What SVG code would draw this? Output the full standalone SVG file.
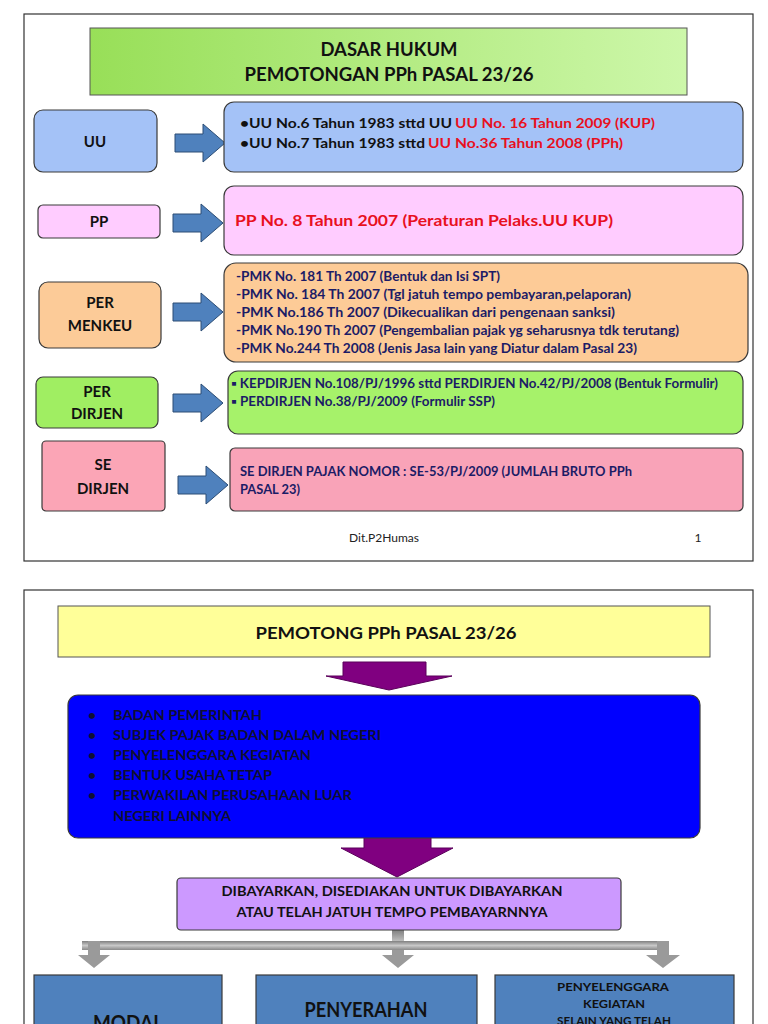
<svg xmlns="http://www.w3.org/2000/svg" width="768" height="1024" viewBox="0 0 768 1024">
<style>
text{font-family:Lato,"Open Sans","Liberation Sans",sans-serif;font-weight:bold}
.c{text-anchor:middle}
.lbl{font-size:15px;fill:#111}
.nv{fill:#1c1c66;font-size:12.5px}
.bk{fill:#111}
.rd{fill:#e8101e}
.box{stroke:#3a3a3a;stroke-width:1.2}
.frame{fill:#fff;stroke:#333;stroke-width:1.2}
.bar{fill:#9a9a9a}
</style>
<defs>
<linearGradient id="gT" x1="0" y1="0" x2="1" y2="0">
<stop offset="0" stop-color="#98df58"/><stop offset="1" stop-color="#cdf7aa"/>
</linearGradient>
<linearGradient id="gBar" x1="0" y1="0" x2="0" y2="1">
<stop offset="0" stop-color="#808080"/><stop offset="0.5" stop-color="#c8c8c8"/><stop offset="1" stop-color="#8a8a8a"/>
</linearGradient>
<path id="arr" d="M0,10 H28 V0 L50,19 L28,38 V28 H0 Z" fill="#4f81bd" stroke="#2c4d75" stroke-width="1"/>
</defs>
<rect width="768" height="1024" fill="#fff"/>
<rect class="frame" x="24" y="14" width="729" height="547"/>
<rect class="frame" x="24" y="590" width="729" height="450"/>

<g id="title1">
<rect x="90" y="28" width="597" height="67" fill="url(#gT)" stroke="#555" stroke-width="1"/>
<text class="c bk" x="389" y="56" font-size="18" textLength="137" lengthAdjust="spacingAndGlyphs">DASAR HUKUM</text>
<text class="c bk" x="389" y="81" font-size="18" textLength="289" lengthAdjust="spacingAndGlyphs">PEMOTONGAN PPh PASAL 23/26</text>
</g>

<g id="connectors">
<use href="#arr" x="175" y="124"/>
<use href="#arr" x="173" y="204"/>
<use href="#arr" x="173" y="293"/>
<use href="#arr" x="173" y="384"/>
<use href="#arr" x="178" y="466"/>
<path d="M343,662 H426 V676 H452 L389,690 L326,676 H343 Z" fill="#800080" stroke="#5a005a" stroke-width="1"/>
<path d="M364,835 H431 V848 H453 L397,877 L341,848 H364 Z" fill="#800080" stroke="#5a005a" stroke-width="1"/>
<rect x="392" y="930" width="12" height="26" fill="url(#gBar)"/>
<rect x="82" y="941" width="586" height="9" fill="url(#gBar)"/>
<path d="M88,941 H100 V955 H110 L94,968 L78,955 H88 Z" fill="#9a9a9a"/>
<path d="M392,950 H404 V955 H414 L398,968 L382,955 H392 Z" fill="#9a9a9a"/>
<path d="M657,941 H669 V955 H680 L663,968 L646,955 H657 Z" fill="#9a9a9a"/>
</g>

<g id="uu">
<rect class="box" x="34" y="110" width="123" height="62" rx="9" fill="#a4c2f7"/>
<text class="c lbl" x="95" y="147">UU</text>
</g>
<g id="uu-isi">
<rect class="box" x="224" y="102" width="519" height="70" rx="10" fill="#a4c2f7"/>
<text class="bk" x="240" y="128" font-size="14" textLength="212" lengthAdjust="spacingAndGlyphs">•UU No.6 Tahun 1983 sttd UU</text>
<text class="rd" x="455" y="128" font-size="14" textLength="200" lengthAdjust="spacingAndGlyphs">UU No. 16 Tahun 2009 (KUP)</text>
<text class="bk" x="240" y="148" font-size="14" textLength="185" lengthAdjust="spacingAndGlyphs">•UU No.7 Tahun 1983 sttd</text>
<text class="rd" x="428" y="148" font-size="14" textLength="195" lengthAdjust="spacingAndGlyphs">UU No.36 Tahun 2008 (PPh)</text>
</g>

<g id="pp">
<rect class="box" x="38" y="205" width="122" height="33" rx="5" fill="#ffccff"/>
<text class="c lbl" x="99" y="227">PP</text>
</g>
<g id="pp-isi">
<rect class="box" x="224" y="186" width="519" height="69" rx="10" fill="#ffccff"/>
<text class="rd" x="235" y="226" font-size="16" textLength="378" lengthAdjust="spacingAndGlyphs">PP No. 8 Tahun 2007 (Peraturan Pelaks.UU KUP)</text>
</g>

<g id="permenkeu">
<rect class="box" x="39" y="282" width="122" height="66" rx="9" fill="#fccb98"/>
<text class="c lbl" x="100" y="308">PER</text>
<text class="c lbl" x="100" y="331">MENKEU</text>
</g>
<g id="pmk-isi">
<rect class="box" x="224" y="263" width="524" height="99" rx="12" fill="#fdcb97"/>
<text class="nv" x="236" y="281" textLength="264" lengthAdjust="spacingAndGlyphs">-PMK No. 181 Th 2007 (Bentuk dan Isi SPT)</text>
<text class="nv" x="236" y="299" textLength="395" lengthAdjust="spacingAndGlyphs">-PMK No. 184 Th 2007 (Tgl jatuh tempo pembayaran,pelaporan)</text>
<text class="nv" x="236" y="317" textLength="379" lengthAdjust="spacingAndGlyphs">-PMK No.186 Th 2007 (Dikecualikan dari pengenaan sanksi)</text>
<text class="nv" x="236" y="335" textLength="443" lengthAdjust="spacingAndGlyphs">-PMK No.190 Th 2007 (Pengembalian pajak yg seharusnya tdk terutang)</text>
<text class="nv" x="236" y="353" textLength="401" lengthAdjust="spacingAndGlyphs">-PMK No.244 Th 2008 (Jenis Jasa lain yang Diatur dalam Pasal 23)</text>
</g>

<g id="perdirjen">
<rect class="box" x="36" y="377" width="122" height="51" rx="7" fill="#a0ee62"/>
<text class="c lbl" x="97" y="397">PER</text>
<text class="c lbl" x="97" y="419">DIRJEN</text>
</g>
<g id="perdirjen-isi">
<rect class="box" x="228" y="371" width="515" height="63" rx="10" fill="#a6f26a"/>
<text class="nv" x="231" y="388" textLength="487" lengthAdjust="spacingAndGlyphs">▪ KEPDIRJEN No.108/PJ/1996 sttd PERDIRJEN No.42/PJ/2008 (Bentuk Formulir)</text>
<text class="nv" x="231" y="406" textLength="264" lengthAdjust="spacingAndGlyphs">▪ PERDIRJEN No.38/PJ/2009 (Formulir SSP)</text>
</g>

<g id="sedirjen">
<rect class="box" x="42" y="441" width="123" height="70" rx="4" fill="#fba5b6"/>
<text class="c lbl" x="103" y="470">SE</text>
<text class="c lbl" x="103" y="494">DIRJEN</text>
</g>
<g id="sedirjen-isi">
<rect class="box" x="230" y="448" width="513" height="63" rx="5" fill="#f9a3b8"/>
<text class="nv" x="240" y="476" font-size="12" textLength="392" lengthAdjust="spacingAndGlyphs">SE DIRJEN PAJAK NOMOR : SE-53/PJ/2009 (JUMLAH BRUTO PPh</text>
<text class="nv" x="240" y="494" font-size="12" textLength="60" lengthAdjust="spacingAndGlyphs">PASAL 23)</text>
</g>

<g id="footer">
<text class="c" x="384" y="542" font-size="12" font-weight="normal" style="font-weight:normal" fill="#222">Dit.P2Humas</text>
<text class="c" x="698" y="542" font-size="12" style="font-weight:normal" fill="#222">1</text>
</g>

<g id="title2">
<rect x="58" y="606" width="652" height="51" fill="#ffff99" stroke="#555" stroke-width="1"/>
<text class="c bk" x="386" y="639" font-size="17" textLength="261" lengthAdjust="spacingAndGlyphs">PEMOTONG PPh PASAL 23/26</text>
</g>

<g id="pemotong">
<rect class="box" x="68" y="695" width="632" height="143" rx="10" fill="#0000ff"/>
<g fill="#101030" font-size="14">
<text x="88" y="720">•</text><text x="113" y="720" textLength="149" lengthAdjust="spacingAndGlyphs" fill="#101030">BADAN PEMERINTAH</text>
<text x="88" y="740">•</text><text x="113" y="740" textLength="268" lengthAdjust="spacingAndGlyphs" fill="#101030">SUBJEK PAJAK BADAN DALAM NEGERI</text>
<text x="88" y="760">•</text><text x="113" y="760" textLength="198" lengthAdjust="spacingAndGlyphs" fill="#101030">PENYELENGGARA KEGIATAN</text>
<text x="88" y="780">•</text><text x="113" y="780" textLength="159" lengthAdjust="spacingAndGlyphs" fill="#101030">BENTUK USAHA TETAP</text>
<text x="88" y="800">•</text><text x="113" y="800" textLength="239" lengthAdjust="spacingAndGlyphs" fill="#101030">PERWAKILAN PERUSAHAAN LUAR</text>
<text x="113" y="821" textLength="118" lengthAdjust="spacingAndGlyphs" fill="#101030">NEGERI LAINNYA</text>
</g>
</g>

<g id="dibayarkan">
<rect class="box" x="177" y="878" width="444" height="52" rx="4" fill="#cc99ff"/>
<text class="c bk" x="392" y="896" font-size="14" textLength="341" lengthAdjust="spacingAndGlyphs">DIBAYARKAN, DISEDIAKAN UNTUK DIBAYARKAN</text>
<text class="c bk" x="392" y="917" font-size="14" textLength="311" lengthAdjust="spacingAndGlyphs">ATAU TELAH JATUH TEMPO PEMBAYARNNYA</text>
</g>

<g id="modal">
<rect class="box" x="34" y="975" width="188" height="70" fill="#4f81bd"/>
<text class="c bk" x="128" y="1030" font-size="20" textLength="70" lengthAdjust="spacingAndGlyphs">MODAL</text>
</g>
<g id="penyerahan">
<rect class="box" x="256" y="975" width="221" height="70" fill="#4f81bd"/>
<text class="c bk" x="366" y="1017" font-size="20" textLength="123" lengthAdjust="spacingAndGlyphs">PENYERAHAN</text>
</g>
<g id="penyelenggara">
<rect class="box" x="495" y="975" width="239" height="70" fill="#4f81bd"/>
<text class="c bk" x="613" y="991" font-size="12" textLength="112" lengthAdjust="spacingAndGlyphs">PENYELENGGARA</text>
<text class="c bk" x="614" y="1008" font-size="12" textLength="62" lengthAdjust="spacingAndGlyphs">KEGIATAN</text>
<text class="c bk" x="614" y="1025" font-size="12" textLength="114" lengthAdjust="spacingAndGlyphs">SELAIN YANG TELAH</text>
</g>
</svg>
